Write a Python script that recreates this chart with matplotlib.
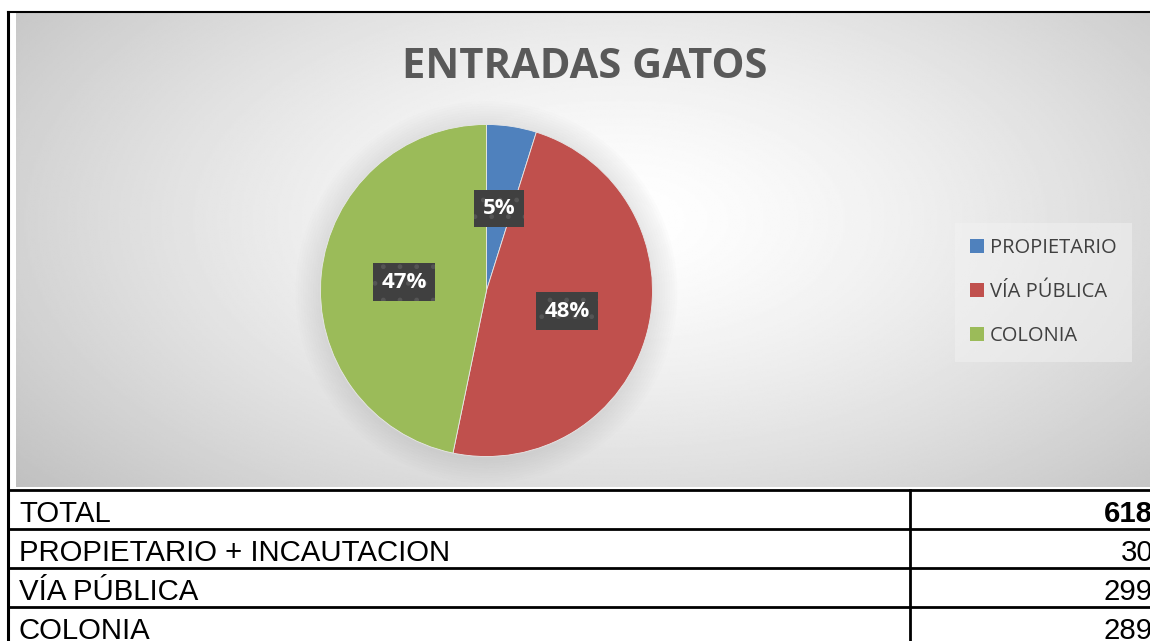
import numpy as np
import matplotlib
matplotlib.use('Agg')
import matplotlib.pyplot as plt
from matplotlib.patches import Circle

# data
labels = ['PROPIETARIO', 'VÍA PÚBLICA', 'COLONIA']
values = [30, 299, 289]
colors = ['#4f81bd', '#c0504d', '#9bbb59']
title = 'ENTRADAS GATOS'

row_labels = ['TOTAL', 'PROPIETARIO + INCAUTACION', 'VÍA PÚBLICA', 'COLONIA']
row_values = ['618', '30', '299', '289']

W, H = 1150, 641
fig = plt.figure(figsize=(W / 100, H / 100), dpi=100)
fig.patch.set_facecolor('white')

# background axes in pixel coords
bg = fig.add_axes([0, 0, 1, 1])
bg.set_xlim(0, W)
bg.set_ylim(H, 0)
bg.axis('off')

# chart area gradient
x0, x1, y0, y1 = 16, W, 13, 487
xx, yy = np.meshgrid(np.linspace(x0, x1, 600), np.linspace(y0, y1, 300))
d = np.sqrt(((xx - 620) / 600) ** 2 + ((yy - 220) / 320) ** 2)
v = np.clip(1.0 - 0.17 * d ** 1.4, 0.75, 1.0)
bg.imshow(v, cmap='gray', vmin=0, vmax=1, extent=(x0, x1, y1, y0),
          aspect='auto', zorder=0, interpolation='bilinear')

# borders and table lines
bg.plot([8, W], [12, 12], color='black', lw=1.5, zorder=3)
bg.plot([8, 8], [12, H], color='black', lw=2.2, zorder=3)
for y in [490, 529, 568, 607]:
    bg.plot([8, W], [y, y], color='black', lw=2, zorder=3)
bg.plot([910, 910], [490, H], color='black', lw=2, zorder=3)

# table text
row_tops = [490, 529, 568, 607]
for i, (lab, val) in enumerate(zip(row_labels, row_values)):
    base = row_tops[i] + 32
    bg.text(19, base, lab, fontsize=21.2, family='Liberation Sans',
            color='black', va='baseline', ha='left', zorder=4)
    bg.text(1153, base, val, fontsize=21.2, family='Liberation Sans',
            color='black', va='baseline', ha='right', zorder=4,
            fontweight='bold' if i == 0 else 'normal')

# title
bg.text(585, 67, title, fontsize=30, fontweight='bold', family='Open Sans',
        color='#595959', ha='center', va='center', zorder=4)

# pie
cx, cy, r = 486.5, 290.5, 166
lim = 1.25
side = 2 * r * lim
ax = fig.add_axes([(cx - side / 2) / W, (H - cy - side / 2) / H, side / W, side / H])
ax.set_xlim(-lim, lim)
ax.set_ylim(-lim, lim)
ax.set_aspect('equal')
ax.axis('off')

# soft shadow around the pie
for k in range(10):
    ax.add_patch(Circle((0.0, -0.01), 1.0 + 0.015 * (10 - k), color='#909090',
                        alpha=0.02, lw=0, zorder=0))

wedges, texts, autotexts = ax.pie(
    values, colors=colors, startangle=90, counterclock=False,
    autopct=lambda p: f'{p:.0f}%', pctdistance=0.5,
    wedgeprops=dict(linewidth=0.6, edgecolor='#e8e8e8'),
    textprops=dict(color='white', fontsize=16, fontweight='bold', family='Open Sans'))
for t in autotexts:
    t.set_bbox(dict(boxstyle='square,pad=0.38', facecolor='#404040',
                    edgecolor='#555555', linewidth=0, hatch='.'))
    t.set_zorder(5)

# legend
leg = fig.legend(wedges, labels, loc='upper left',
                 bbox_to_anchor=(955 / W, 1 - 223 / H), borderaxespad=0,
                 frameon=True, fancybox=False,
                 prop=dict(family='Open Sans', size=14.5),
                 handlelength=0.7, handleheight=0.7, handletextpad=0.3,
                 labelspacing=1.2, borderpad=0.75)
leg.get_frame().set_facecolor('#f2f2f2')
leg.get_frame().set_alpha(0.5)
leg.get_frame().set_linewidth(0)
for t in leg.get_texts():
    t.set_color('#404040')
for h in leg.legend_handles:
    h.set_edgecolor('none')

fig.savefig('out.png', dpi=100)
